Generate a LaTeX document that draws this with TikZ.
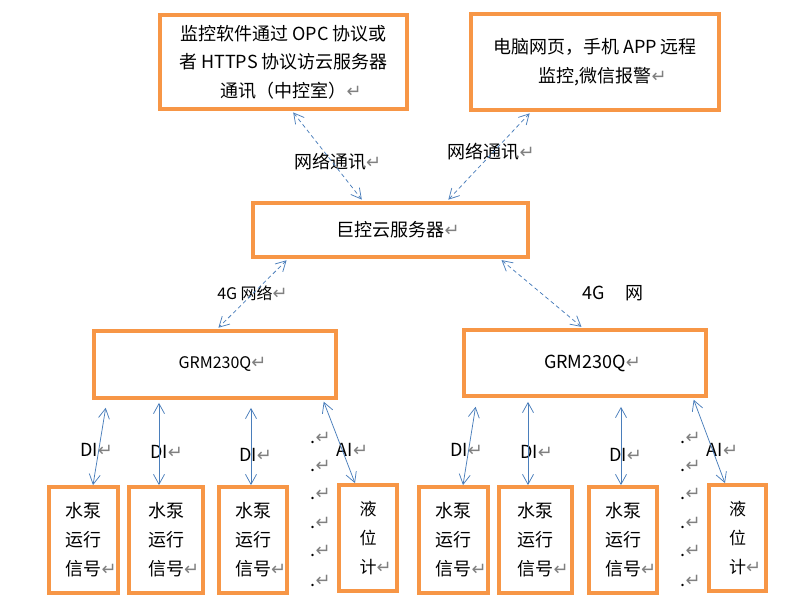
\documentclass[tikz,border=0pt]{standalone}
\usepackage{fontspec}
\setmainfont{Noto Sans CJK SC}
\newfontfamily\symfont{DejaVu Sans}
\usepackage{tikz}
\usetikzlibrary{arrows.meta}
\definecolor{boxorange}{HTML}{F79646}
\definecolor{linkblue}{HTML}{4A7EBB}
\definecolor{markgray}{HTML}{808080}
\newcommand{\retmark}{\rlap{\textcolor{markgray}{\symfont\fontsize{18}{18}\selectfont ↵}}}

\begin{document}
\begin{tikzpicture}[x=1pt, y=-1pt,
  box/.style={draw=boxorange, line width=3.75pt, inner sep=0pt, font=\fontsize{18}{28.5}\selectfont},
  link/.style={draw=linkblue, line width=0.75pt, {Straight Barb[length=10pt,width=11pt]}-{Straight Barb[length=10pt,width=11pt]}},
  net/.style={link, dash pattern=on 4pt off 3pt, shorten <=2pt, shorten >=2pt},
  lbl/.style={inner sep=0pt, font=\fontsize{18}{18}\selectfont}]
\useasboundingbox (0,0) rectangle (804,605);
% top row
\node[box, minimum width=247, minimum height=94, align=center] (opc) at (283.5,62) {监控软件通过 OPC 协议或\\者 HTTPS 协议访云服务器\\通讯（中控室）\retmark};
\node[box, minimum width=248, minimum height=96, align=center] (web) at (595,62) {电脑网页，手机 APP 远程\\监控,微信报警\retmark};
\node[box, minimum width=275, minimum height=54] (srv) at (390.5,230) {巨控云服务器\retmark};
% gateways
\node[box, minimum width=242, minimum height=67, font=\fontsize{16}{16}\selectfont] (grmL) at (215,364.5) {GRM230Q\retmark};
\node[box, minimum width=242, minimum height=66] (grmR) at (585,363) {GRM230Q\retmark};
% field devices
\foreach \n/\x/\w in {p1/83.5/69, p2/166/74, p3/253/68, p4/453.5/69, p5/535.5/73, p6/623/68}
  \node[box, minimum width=\w, minimum height=106, align=left, font=\fontsize{18}{29}\selectfont] (\n) at (\x,540) {水泵\\运行\\信号\retmark};
\node[box, minimum width=58, minimum height=106, align=left, font=\fontsize{17}{29}\selectfont] (lv1) at (368,538) {液\\位\\计\retmark};
\node[box, minimum width=57, minimum height=106, align=left, font=\fontsize{17}{29}\selectfont] (lv2) at (737.5,538) {液\\位\\计\retmark};
% labels
\node[lbl] (n1) at (330,162) {网络通讯\retmark};
\node[lbl] (n2) at (483.5,152) {网络通讯\retmark};
\node[lbl, font=\fontsize{16}{16}\selectfont] (g1) at (245,293) {4G 网络\retmark};
\node[lbl] (g2) at (613,293) {4G\hspace{20pt}网};
\node[lbl] (di1) at (89,450) {DI\retmark};
\node[lbl] (di2) at (159,452) {DI\retmark};
\node[lbl] (di3) at (248,455) {DI\retmark};
\node[lbl] (ai1) at (345,450) {AI\retmark};
\node[lbl] (di4) at (459,450) {DI\retmark};
\node[lbl] (di5) at (529,452) {DI\retmark};
\node[lbl] (di6) at (618,455) {DI\retmark};
\node[lbl] (ai2) at (715,450) {AI\retmark};
\foreach \y [count=\i] in {443,471,499,528,556,586} {
  \node[lbl, anchor=base] (dotl\i) at (313,\y) {.\retmark};
  \node[lbl, anchor=base] (dotr\i) at (683,\y) {.\retmark};
}
% network links
\draw[net] ([xshift=8.5pt]opc.south) -- ([xshift=-27.5pt]srv.north);
\draw[net] ([xshift=-64pt]web.south) -- ([xshift=56.5pt]srv.north);
\draw[net] ([xshift=-102.5pt]srv.south) -- ([xshift=2pt]grmL.north);
\draw[net] ([xshift=109.5pt]srv.south) -- ([xshift=-2pt]grmR.north);
% signal links
\draw[link, shorten <=8pt] ([xshift=-108pt]grmL.south) -- ([xshift=9.5pt]p1.north);
\draw[link, shorten <=3pt] ([xshift=-56pt]grmL.south) -- ([xshift=-7pt]p2.north);
\draw[link, shorten <=8pt] ([xshift=36pt]grmL.south) -- ([xshift=-2pt]p3.north);
\draw[link, shorten <=2pt] ([xshift=108pt]grmL.south) -- ([xshift=-13pt]lv1.north);
\draw[link, shorten <=9pt] ([xshift=-108pt]grmR.south) -- ([xshift=9.5pt]p4.north);
\draw[link, shorten <=4pt] ([xshift=-57pt]grmR.south) -- ([xshift=-7.5pt]p5.north);
\draw[link, shorten <=9pt] ([xshift=36pt]grmR.south) -- ([xshift=-2pt]p6.north);
\draw[link, shorten <=2pt] ([xshift=108pt]grmR.south) -- ([xshift=-12.5pt]lv2.north);
\end{tikzpicture}
\end{document}
